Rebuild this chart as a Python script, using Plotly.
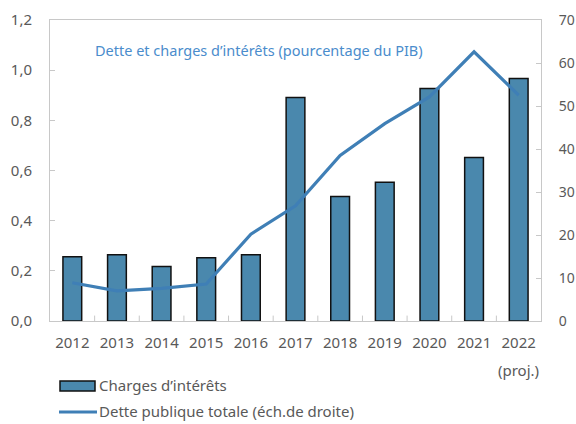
import plotly.graph_objects as go

years = ["2012", "2013", "2014", "2015", "2016", "2017", "2018", "2019", "2020", "2021", "2022"]
charges = [0.256, 0.264, 0.217, 0.252, 0.264, 0.891, 0.496, 0.553, 0.927, 0.652, 0.967]
dette = [8.9, 7.0, 7.6, 8.6, 20.2, 26.8, 38.5, 45.9, 52.1, 62.6, 52.5]
left_ticks = [0, 0.2, 0.4, 0.6, 0.8, 1.0, 1.2]
left_labels = ["0,0", "0,2", "0,4", "0,6", "0,8", "1,0", "1,2"]
right_ticks = [0, 10, 20, 30, 40, 50, 60, 70]

FONT = "Noto Sans"
GREY = "#595959"
BAR = "#4a88ad"
LINE = "#3f7fb6"

fig = go.Figure()
fig.add_trace(go.Bar(x=years, y=charges, name="Charges d’intérêts",
                     marker=dict(color=BAR, line=dict(color="#111111", width=1.5)),
                     width=0.42, yaxis="y"))
fig.add_trace(go.Scatter(x=years, y=dette, name="Dette publique totale (éch.de droite)",
                         mode="lines", line=dict(color=LINE, width=3.2), yaxis="y2"))

fig.update_layout(
    width=576, height=424,
    margin=dict(l=50, r=35, t=20, b=103, autoexpand=False),
    paper_bgcolor="white", plot_bgcolor="white",
    showlegend=False,
    font=dict(family=FONT, size=15, color=GREY),
    xaxis=dict(type="category", range=[-0.5, len(years) - 0.5], autorange=False,
               showline=True, linecolor="#c8c8c8", linewidth=1, automargin=False,
               mirror=True, ticks="", tickfont=dict(size=15, color=GREY),
               ticklabelstandoff=8),
    yaxis=dict(range=[0, 1.2], tickvals=left_ticks, ticktext=left_labels, automargin=False,
               showgrid=False, zeroline=False, showline=True, linecolor="#c8c8c8",
               ticks="inside", ticklen=5, tickcolor="#c8c8c8",
               tickfont=dict(size=15, color=GREY), ticklabelstandoff=14),
    yaxis2=dict(range=[0, 70], tickvals=right_ticks, overlaying="y", side="right",
                automargin=False,
                showgrid=False, zeroline=False, showline=True, linecolor="#c8c8c8",
                ticks="inside", ticklen=5, tickcolor="#c8c8c8",
                tickfont=dict(size=14, color=GREY), ticklabelstandoff=14),
)

# inside tick marks between categories on the x axis
for i in range(1, len(years)):
    fig.add_shape(type="line", xref="x domain", yref="paper",
                  x0=i / len(years), x1=i / len(years),
                  y0=0, y1=0.018, line=dict(color="#c8c8c8", width=1))

px = lambda v: (v - 50) / 491
py = lambda v: (321 - v) / 301

# title inside plot
fig.add_annotation(text="Dette et charges d’intérêts (pourcentage du PIB)",
                   xref="paper", yref="paper", x=px(93), y=py(50),
                   xanchor="left", yanchor="middle", showarrow=False,
                   font=dict(family=FONT, size=14.5, color="#4a8ccc"))

# "(proj.)" under 2022
fig.add_annotation(text="(proj.)", xref="paper", yref="paper",
                   x=(len(years) - 0.5) / len(years), y=py(370),
                   xanchor="center", yanchor="middle", showarrow=False,
                   font=dict(family=FONT, size=15, color=GREY))

# custom legend
fig.add_shape(type="rect", xref="paper", yref="paper", x0=px(60), x1=px(95),
              y0=py(391), y1=py(381), fillcolor=BAR, line=dict(color="#111111", width=1.5))
fig.add_annotation(text="Charges d’intérêts", xref="paper", yref="paper",
                   x=px(97), y=py(385), xanchor="left", yanchor="middle", showarrow=False,
                   font=dict(family=FONT, size=15, color=GREY))
fig.add_shape(type="line", xref="paper", yref="paper", x0=px(59), x1=px(97),
              y0=py(412), y1=py(412), line=dict(color=LINE, width=3.2))
fig.add_annotation(text="Dette publique totale (éch.de droite)", xref="paper", yref="paper",
                   x=px(97), y=py(411), xanchor="left", yanchor="middle", showarrow=False,
                   font=dict(family=FONT, size=15, color=GREY))

fig.write_html("out.html", config={"displayModeBar": False},
               post_script="document.body.style.margin='0';document.body.style.padding='0';")
